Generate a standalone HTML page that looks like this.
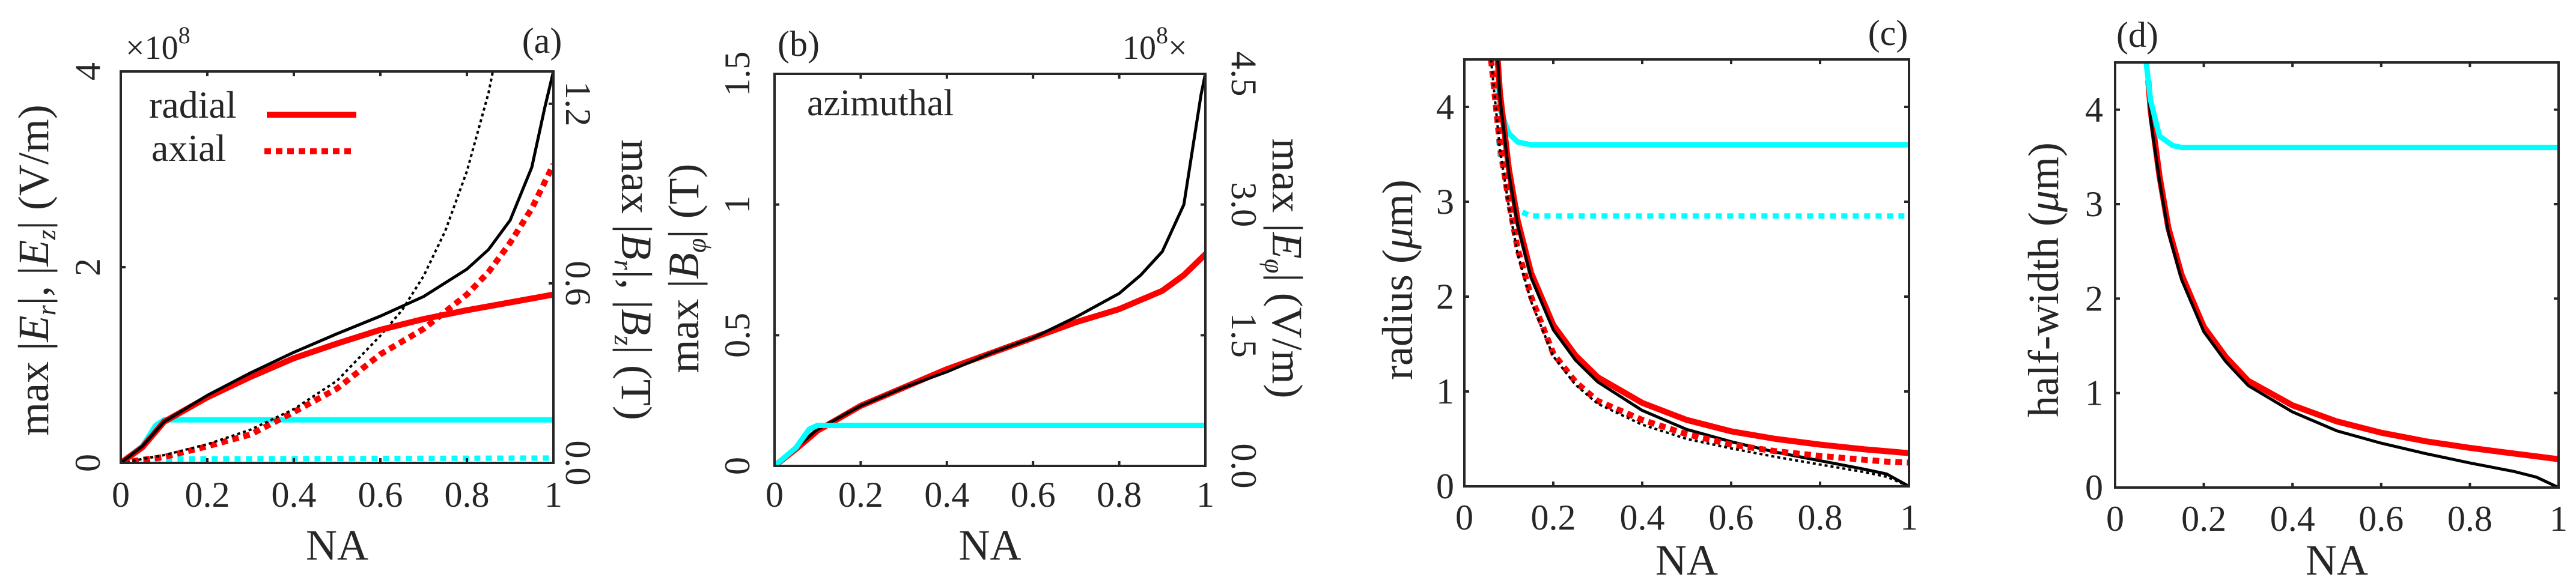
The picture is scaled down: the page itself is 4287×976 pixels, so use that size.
<!DOCTYPE html>
<html><head><meta charset="utf-8">
<style>
html,body{margin:0;padding:0;background:#fff;}
svg{display:block;}
text{font-family:"Liberation Serif","DejaVu Serif",serif;fill:#262626;}
</style></head>
<body>
<svg id="fig" width="4287" height="976" viewBox="0 0 4287 976" xmlns="http://www.w3.org/2000/svg">
</svg>
<script>
// ---------- DATA ----------
const naA_Er = [0,0.05,0.1,0.2,0.3,0.4,0.5,0.6,0.7,0.8,0.85,0.9,0.95,0.98,1.0];
const valA_Er = [0,0.17,0.42,0.69,0.92,1.13,1.32,1.50,1.70,1.98,2.18,2.48,3.02,3.63,4.0];
const naA_Erx = [0,0.05,0.1,0.2,0.3,0.4,0.5,0.6,0.7,0.8,0.9,1.0];
const valA_ErRed = [0,0.16,0.42,0.67,0.88,1.07,1.22,1.36,1.47,1.56,1.64,1.72];
const naA_Ez = [0,0.1,0.2,0.3,0.4,0.5,0.6,0.7,0.8,0.85,0.9,0.95,1.0];
const valA_EzRed = [0,0.06,0.17,0.29,0.52,0.76,1.11,1.37,1.72,1.95,2.25,2.60,3.05];
const naA_EzBlk = [0,0.1,0.2,0.3,0.4,0.5,0.6,0.65,0.7,0.75,0.8,0.85,0.86];
const valA_EzBlk = [0,0.08,0.19,0.34,0.55,0.84,1.30,1.56,1.91,2.37,2.98,3.78,4.0];
const naA_cyan = [0,0.05,0.08,0.1,1.0];
const valA_cyanSolid = [0,0.17,0.38,0.44,0.44];
const naA_cyanDot = [0,0.05,1.0];
const valA_cyanDot = [0,0.04,0.05];
const naB = [0,0.05,0.1,0.2,0.3,0.4,0.5,0.6,0.7,0.8,0.85,0.9,0.95,0.97,0.99,1.0];
const valB_black = [0,0.07,0.14,0.23,0.30,0.36,0.43,0.49,0.57,0.66,0.73,0.82,1.0,1.21,1.42,1.5];
const naB_red = [0,0.05,0.1,0.2,0.3,0.4,0.5,0.6,0.7,0.8,0.9,0.95,1.0];
const valB_red = [0,0.065,0.135,0.23,0.30,0.37,0.43,0.49,0.55,0.60,0.67,0.73,0.81];
const naB_cyan = [0,0.05,0.08,0.1,1.0];
const valB_cyan = [0,0.07,0.14,0.155,0.155];
const naC_cyanS = [0.075,0.08,0.1,0.12,0.15,1.0];
const valC_cyanS = [4.5,3.98,3.72,3.63,3.6,3.6];
const naC_cyanD = [0.06,0.07,0.08,0.1,0.12,0.15,1.0];
const valC_cyanD = [4.5,4.1,3.5,3.07,2.91,2.85,2.85];
const naC = [0.075,0.08,0.1,0.12,0.15,0.2,0.25,0.3,0.4,0.5,0.6,0.7,0.8,0.9,0.95,1.0];
const valC_black = [4.5,4.1,3.3,2.75,2.2,1.65,1.33,1.1,0.8,0.6,0.47,0.36,0.27,0.18,0.13,0.0];
const valC_red = [4.5,4.15,3.35,2.8,2.25,1.7,1.38,1.15,0.88,0.7,0.58,0.5,0.44,0.39,0.37,0.35];
const naC_d = [0.06,0.08,0.1,0.12,0.15,0.2,0.25,0.3,0.4,0.5,0.6,0.7,0.8,0.9,0.95,1.0];
const valC_redDot = [4.5,3.6,3.0,2.5,2.0,1.4,1.1,0.9,0.7,0.55,0.44,0.37,0.32,0.28,0.26,0.25];
const valC_blkDot = [4.5,3.55,2.95,2.45,1.95,1.37,1.07,0.87,0.65,0.5,0.4,0.31,0.23,0.15,0.1,0.0];
const naD_cyan = [0.07,0.08,0.1,0.13,0.15,1.0];
const valD_cyan = [4.5,4.1,3.72,3.62,3.6,3.6];
const naD = [0.075,0.08,0.1,0.12,0.15,0.2,0.25,0.3,0.4,0.5,0.6,0.7,0.8,0.9,0.95,1.0];
const valD_black = [4.3,3.9,3.25,2.7,2.2,1.65,1.33,1.08,0.8,0.6,0.47,0.36,0.26,0.17,0.11,0.0];
const valD_red = [4.3,4.0,3.3,2.75,2.25,1.7,1.38,1.13,0.87,0.7,0.58,0.49,0.42,0.36,0.33,0.3];
const xTicks = [0,0.2,0.4,0.6,0.8,1];
const xTickLabels = ["0","0.2","0.4","0.6","0.8","1"];

// ---------- DRAW ----------
const NS="http://www.w3.org/2000/svg";
const svg=document.getElementById('fig');
function el(tag,attrs,parent){const e=document.createElementNS(NS,tag);for(const k in attrs)e.setAttribute(k,attrs[k]);(parent||svg).appendChild(e);return e;}
const RED="#ff0000", CY="#00ffff", BK="#000000", AX="#262626";
const TF=60;
let clipId=0;

function makePanel(P){
  const g=el('g',{});
  
  
  const sx=v=>P.l+(v-0)*(P.r-P.l)/1;
  const sy=v=>P.b-(v-P.y0)*(P.b-P.t)/(P.y1-P.y0);
  clipId++;
  const cp=el('clipPath',{id:'clip'+clipId},g);
  el('rect',{x:P.l,y:P.t,width:P.r-P.l,height:P.b-P.t},cp);
  const cg=el('g',{'clip-path':'url(#clip'+clipId+')'},g);
  P.series.forEach(s=>{
    const d=s.x.map((x,i)=>(i?'L':'M')+sx(x).toFixed(1)+' '+sy(s.y[i]).toFixed(1)).join(' ');
    const p=el('path',{d:d,fill:'none',stroke:s.c,'stroke-width':s.w,'stroke-linejoin':'round','stroke-linecap':s.dash?'butt':'round'},cg);
    if(s.dash)p.setAttribute('stroke-dasharray',s.dash);
    
    
  });
  const box=el('rect',{x:P.l,y:P.t,width:P.r-P.l,height:P.b-P.t,fill:'none',stroke:AX,'stroke-width':4},g);
  
  
  xTicks.forEach((t,i)=>{
    const x=sx(t);
    el('line',{x1:x,y1:P.b,x2:x,y2:P.b-8,stroke:AX,'stroke-width':4},g);
    el('line',{x1:x,y1:P.t,x2:x,y2:P.t+8,stroke:AX,'stroke-width':4},g);
    const tx=el('text',{x:x,y:P.xty,'font-size':TF,'text-anchor':'middle'},g);
    tx.textContent=xTickLabels[i];
    
    
  });
  P.yTicks.forEach((t,i)=>{
    const y=sy(t);
    el('line',{x1:P.l,y1:y,x2:P.l+8,y2:y,stroke:AX,'stroke-width':4},g);
    if(!P.rightTicks) el('line',{x1:P.r,y1:y,x2:P.r-8,y2:y,stroke:AX,'stroke-width':4},g);
    let tx;
    if(P.rotY){
      tx=el('text',{x:0,y:0,'font-size':TF,'text-anchor':'middle',transform:`translate(${P.ytx},${y}) rotate(-90)`},g);
    }else{
      tx=el('text',{x:P.ytx,y:y+20,'font-size':TF,'text-anchor':'end'},g);
    }
    tx.textContent=P.yTickLabels[i];
    
    
  });
  if(P.rightTicks){
    const rsy=v=>P.b-v*(P.b-P.t)/P.rMax;
    P.rightTicks.forEach((t,i)=>{
      const y=rsy(t);
      el('line',{x1:P.r,y1:y,x2:P.r-8,y2:y,stroke:AX,'stroke-width':4},g);
      const tx=el('text',{x:0,y:0,'font-size':TF,'text-anchor':'middle',transform:`translate(${P.rtx},${y}) rotate(90)`},g);
      tx.textContent=P.rightLabels[i];
      
      
    });
  }
  const na=el('text',{x:(P.l+P.r)/2,y:P.nay,'font-size':72,'text-anchor':'middle'},g);
  na.textContent='NA';
  
  
  return g;
}

function addText(html,x,y,size,anchor,rot,name){
  const t=el('text',{x:0,y:0,'font-size':size,'text-anchor':anchor||'start',transform:`translate(${x},${y})`+(rot?` rotate(${rot})`:'')});
  t.innerHTML=html;
  
  
  return t;
}

makePanel({name:'panel-a',l:201,r:921,t:119,b:771,y0:0,y1:4,yTicks:[0,2,4],yTickLabels:['0','2','4'],rotY:true,ytx:166,
  rightTicks:[0,0.6,1.2],rightLabels:['0.0','0.6','1.2'],rMax:1.308,rtx:942,xty:844,nay:932,
  series:[
    {name:'cyan-dotted',x:naA_cyanDot,y:valA_cyanDot,c:CY,w:9,dash:'10 9'},
    {name:'cyan-solid',x:naA_cyan,y:valA_cyanSolid,c:CY,w:9},
    {name:'red-axial-dotted',x:naA_Ez,y:valA_EzRed,c:RED,w:10,dash:'11 8'},
    {name:'black-axial-dotted',x:naA_EzBlk,y:valA_EzBlk,c:BK,w:4,dash:'5 5'},
    {name:'red-radial-solid',x:naA_Erx,y:valA_ErRed,c:RED,w:10},
    {name:'black-radial-solid',x:naA_Er,y:valA_Er,c:BK,w:5},
  ]});
addText('max |<tspan font-style="italic">E</tspan><tspan font-style="italic" font-size="44" dy="12">r</tspan><tspan dy="-12">|, |</tspan><tspan font-style="italic">E</tspan><tspan font-style="italic" font-size="44" dy="12">z</tspan><tspan dy="-12">| (V/m)</tspan>',80,450,72,'middle',-90,'left-y-axis-title');
addText('max |<tspan font-style="italic">B</tspan><tspan font-style="italic" font-size="44" dy="12">r</tspan><tspan dy="-12">|, |</tspan><tspan font-style="italic">B</tspan><tspan font-style="italic" font-size="44" dy="12">z</tspan><tspan dy="-12">| (T)</tspan>',1035,466,72,'middle',90,'right-y-axis-title');
addText('×10<tspan font-size="40" dy="-26">8</tspan>',209,98,56,'start',0,'exponent-label');
addText('(a)',902,88,60,'middle',0,'panel-label-a');
addText('radial',248,196,64,'start',0,'legend-radial-label');
addText('axial',252,268,64,'start',0,'legend-axial-label');
{const l=el('line',{x1:444,y1:191,x2:593,y2:191,stroke:RED,'stroke-width':10});
 const l2=el('line',{x1:440,y1:252,x2:588,y2:252,stroke:RED,'stroke-width':10,'stroke-dasharray':'11 8'});}

makePanel({name:'panel-b',l:1289,r:2006,t:123,b:776,y0:0,y1:1.5,yTicks:[0,0.5,1,1.5],yTickLabels:['0','0.5','1','1.5'],rotY:true,ytx:1247,
  rightTicks:[0,1.5,3.0,4.5],rightLabels:['0.0','1.5','3.0','4.5'],rMax:4.5,rtx:2050,xty:844,nay:932,
  series:[
    {name:'red-azimuthal-solid',x:naB_red,y:valB_red,c:RED,w:10},
    {name:'black-azimuthal-solid',x:naB,y:valB_black,c:BK,w:5},
    {name:'cyan-solid',x:naB_cyan,y:valB_cyan,c:CY,w:9},
  ]});
addText('max |<tspan font-style="italic">B</tspan><tspan font-style="italic" font-size="44" dy="12">φ</tspan><tspan dy="-12">| (T)</tspan>',1162,447,72,'middle',-90,'left-y-axis-title');
addText('max |<tspan font-style="italic">E</tspan><tspan font-style="italic" font-size="44" dy="12">φ</tspan><tspan dy="-12">| (V/m)</tspan>',2118,447,72,'middle',90,'right-y-axis-title');
addText('10<tspan font-size="40" dy="-26">8</tspan><tspan dy="26">×</tspan>',1868,98,56,'start',0,'exponent-label');
addText('(b)',1329,93,60,'middle',0,'panel-label-b');
addText('azimuthal',1343,192,62,'start',0,'annotation-azimuthal');

makePanel({name:'panel-c',l:2437,r:3177,t:99,b:810,y0:0,y1:4.5,yTicks:[0,1,2,3,4],yTickLabels:['0','1','2','3','4'],rotY:false,ytx:2420,xty:882,nay:957,
  series:[
    {name:'cyan-dotted',x:naC_cyanD,y:valC_cyanD,c:CY,w:9,dash:'10 9'},
    {name:'cyan-solid',x:naC_cyanS,y:valC_cyanS,c:CY,w:9},
    {name:'red-solid',x:naC,y:valC_red,c:RED,w:10},
    {name:'black-solid',x:naC,y:valC_black,c:BK,w:5},
    {name:'red-dotted',x:naC_d,y:valC_redDot,c:RED,w:10,dash:'11 8'},
    {name:'black-dotted',x:naC_d,y:valC_blkDot,c:BK,w:4,dash:'5 5'},
  ]});
addText('radius (<tspan font-style="italic">μ</tspan>m)',2350,466,72,'middle',-90,'y-axis-title');
addText('(c)',3142,75,60,'middle',0,'panel-label-c');

makePanel({name:'panel-d',l:3520,r:4258,t:104,b:812,y0:0,y1:4.5,yTicks:[0,1,2,3,4],yTickLabels:['0','1','2','3','4'],rotY:false,ytx:3500,xty:884,nay:957,
  series:[
    {name:'red-solid',x:naD,y:valD_red,c:RED,w:10},
    {name:'black-solid',x:naD,y:valD_black,c:BK,w:5},
    {name:'cyan-solid',x:naD_cyan,y:valD_cyan,c:CY,w:9},
  ]});
addText('half-width (<tspan font-style="italic">μ</tspan>m)',3425,466,72,'middle',-90,'y-axis-title');
addText('(d)',3557,78,60,'middle',0,'panel-label-d');
</script>
</body></html>
